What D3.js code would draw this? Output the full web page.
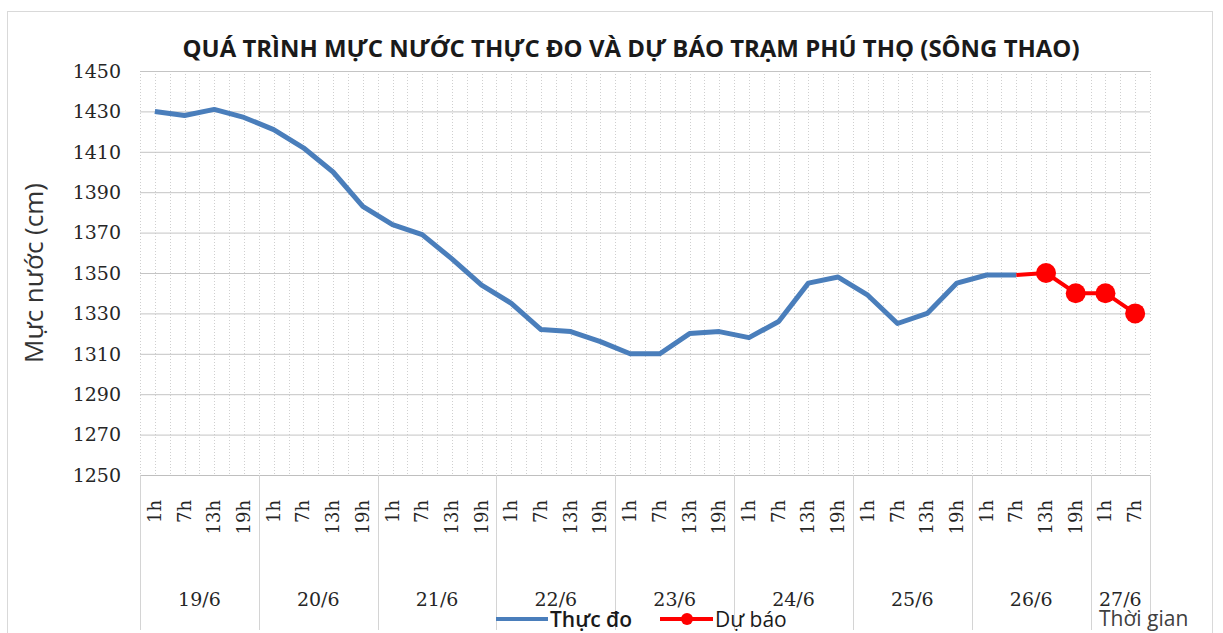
<!DOCTYPE html>
<html>
<head>
<meta charset="utf-8">
<script src="https://cdn.jsdelivr.net/npm/d3@7"></script>
<style>
  body { margin: 0; background: #fff; }
  svg { display: block; }
</style>
</head>
<body>
<div id="chart"></div>
<script>
var width = 1223, height = 633;
var margin = { top: 71, right: 73, bottom: 158, left: 140 };

// data
var days = ["19/6", "20/6", "21/6", "22/6", "23/6", "24/6", "25/6", "26/6", "27/6"];
var hours = ["1h", "7h", "13h", "19h"];
var dayHours = [4, 4, 4, 4, 4, 4, 4, 4, 2];
var yTicks = [1250, 1270, 1290, 1310, 1330, 1350, 1370, 1390, 1410, 1430, 1450];

var thucDo = [1430, 1428, 1431, 1427, 1421, 1412, 1400, 1383,
  1374, 1369, 1357, 1344, 1335, 1322, 1321, 1316,
  1310, 1310, 1320, 1321, 1318, 1326, 1345, 1348,
  1339, 1325, 1330, 1345, 1349, 1349];
var duBaoStart = 29;
var duBao = [1349, 1350, 1340, 1340, 1330];

// categories: one per hour slot
var cats = [];
days.forEach(function(d, di) {
  for (var h = 0; h < dayHours[di]; h++) {
    cats.push({ key: d + "-" + hours[h], day: d, hour: hours[h] });
  }
});

var svg = d3.select("#chart").append("svg")
  .attr("width", width)
  .attr("height", height);

// outer frame
svg.append("rect")
  .attr("x", 7.5).attr("y", 11.5)
  .attr("width", 1205).attr("height", 625)
  .attr("fill", "#fff")
  .attr("stroke", "#d9d9d9");

var xScale = d3.scaleBand()
  .domain(cats.map(d => d.key))
  .range([margin.left, width - margin.right]);

var yScale = d3.scaleLinear()
  .domain([1250, 1450])
  .range([height - margin.bottom, margin.top]);

var bw = xScale.bandwidth();
var plotBottom = height - margin.bottom;

// vertical dotted grid, at band edges and centres
var gridV = svg.append("g").attr("class", "grid-v");
cats.forEach(function(c, i) {
  [0, 0.5].forEach(function(f) {
    var x = Math.round(xScale(c.key) + f * bw) + 0.5;
    gridV.append("line")
      .attr("x1", x).attr("x2", x)
      .attr("y1", margin.top).attr("y2", plotBottom)
      .attr("stroke", "#cfcfcf")
      .attr("stroke-dasharray", "1,2");
  });
});
gridV.append("line")
  .attr("x1", width - margin.right + 0.5).attr("x2", width - margin.right + 0.5)
  .attr("y1", margin.top).attr("y2", plotBottom)
  .attr("stroke", "#cfcfcf")
  .attr("stroke-dasharray", "1,2");

// Y grid
var yGrid = d3.axisLeft(yScale)
  .tickValues(yTicks)
  .tickSize(-(width - margin.left - margin.right))
  .tickFormat("");

svg.append("g")
  .attr("transform", `translate(${margin.left},0)`)
  .attr("class", "grid")
  .call(yGrid)
  .call(g => g.select(".domain").remove())
  .selectAll("line")
  .attr("stroke", "#c4c4c4");

// Y tick labels
svg.append("g")
  .attr("class", "y-axis")
  .selectAll("text")
  .data(yTicks)
  .enter()
  .append("text")
  .attr("x", 121)
  .attr("y", d => yScale(d))
  .attr("dy", "0.36em")
  .attr("text-anchor", "end")
  .style("font-family", "DejaVu Serif")
  .style("font-size", "19px")
  .style("fill", "#262626")
  .text(d => d);

// X axis line
svg.append("line")
  .attr("x1", margin.left).attr("x2", width - margin.right)
  .attr("y1", plotBottom + 0.5).attr("y2", plotBottom + 0.5)
  .attr("stroke", "#bfbfbf");

// hour labels
svg.append("g")
  .attr("class", "x-hours")
  .selectAll("text")
  .data(cats)
  .enter()
  .append("text")
  .attr("transform", d => `translate(${xScale(d.key) + bw / 2 + 6},500) rotate(-90)`)
  .attr("text-anchor", "end")
  .style("font-family", "DejaVu Serif")
  .style("font-size", "18px")
  .style("fill", "#262626")
  .text(d => d.hour);

// day group dividers and labels
var dayG = svg.append("g").attr("class", "x-days");
var idx = 0;
days.forEach(function(d, di) {
  var first = cats[idx].key;
  var last = cats[idx + dayHours[di] - 1].key;
  var x0 = xScale(first), x1 = xScale(last) + bw;
  dayG.append("line")
    .attr("x1", Math.round(x0) + 0.5).attr("x2", Math.round(x0) + 0.5)
    .attr("y1", plotBottom).attr("y2", 630)
    .attr("stroke", "#d4d4d4");
  dayG.append("text")
    .attr("x", (x0 + x1) / 2)
    .attr("y", 606)
    .attr("text-anchor", "middle")
    .style("font-family", "DejaVu Serif")
    .style("font-size", "19px")
    .style("fill", "#262626")
    .text(d);
  idx += dayHours[di];
});
dayG.append("line")
  .attr("x1", width - margin.right + 0.5).attr("x2", width - margin.right + 0.5)
  .attr("y1", plotBottom).attr("y2", 630)
  .attr("stroke", "#d4d4d4");

// lines
var line = d3.line()
  .x(d => xScale(cats[d.i].key) + bw / 2)
  .y(d => yScale(d.v));

var thucDoPts = thucDo.map((v, i) => ({ i: i, v: v }));
var duBaoPts = duBao.map((v, i) => ({ i: i + duBaoStart, v: v }));

svg.append("path")
  .datum(thucDoPts)
  .attr("class", "line thuc-do")
  .attr("d", line)
  .attr("fill", "none")
  .attr("stroke", "#4a7ebb")
  .attr("stroke-width", 5)
  .attr("stroke-linejoin", "round");

svg.append("path")
  .datum(duBaoPts)
  .attr("class", "line du-bao")
  .attr("d", line)
  .attr("fill", "none")
  .attr("stroke", "#ff0000")
  .attr("stroke-width", 4)
  .attr("stroke-linejoin", "round");

svg.selectAll(".dot")
  .data(duBaoPts.slice(1))
  .enter()
  .append("circle")
  .attr("class", "dot")
  .attr("cx", d => xScale(cats[d.i].key) + bw / 2)
  .attr("cy", d => yScale(d.v))
  .attr("r", 10)
  .attr("fill", "#ff0000");

// title
svg.append("text")
  .attr("x", 631)
  .attr("y", 57)
  .attr("text-anchor", "middle")
  .attr("textLength", 897)
  .attr("lengthAdjust", "spacingAndGlyphs")
  .style("font-family", "Open Sans")
  .style("font-weight", "bold")
  .style("font-size", "23px")
  .style("fill", "#1a1a1a")
  .text("QUÁ TRÌNH MỰC NƯỚC THỰC ĐO VÀ DỰ BÁO TRẠM PHÚ THỌ (SÔNG THAO)");

// y axis title
svg.append("text")
  .attr("transform", "translate(43,273) rotate(-90)")
  .attr("text-anchor", "middle")
  .style("font-family", "Open Sans")
  .style("font-size", "26px")
  .style("fill", "#333")
  .text("Mực nước (cm)");

// x axis title
svg.append("text")
  .attr("x", 1099)
  .attr("y", 626)
  .style("font-family", "Open Sans")
  .style("font-size", "21px")
  .style("fill", "#404040")
  .text("Thời gian");

// legend
var legend = svg.append("g").attr("class", "legend");
legend.append("line")
  .attr("x1", 496).attr("x2", 548)
  .attr("y1", 619).attr("y2", 619)
  .attr("stroke", "#4a7ebb")
  .attr("stroke-width", 4);
legend.append("text")
  .attr("x", 550).attr("y", 627)
  .style("font-family", "Open Sans")
  .style("font-weight", "600")
  .style("font-size", "21px")
  .style("fill", "#1a1a1a")
  .text("Thực đo");
legend.append("line")
  .attr("x1", 660).attr("x2", 713)
  .attr("y1", 619).attr("y2", 619)
  .attr("stroke", "#ff0000")
  .attr("stroke-width", 4);
legend.append("circle")
  .attr("cx", 687).attr("cy", 619)
  .attr("r", 6)
  .attr("fill", "#ff0000");
legend.append("text")
  .attr("x", 715).attr("y", 627)
  .style("font-family", "Open Sans")
  .style("font-size", "21px")
  .style("fill", "#1a1a1a")
  .text("Dự báo");
</script>
</body>
</html>
